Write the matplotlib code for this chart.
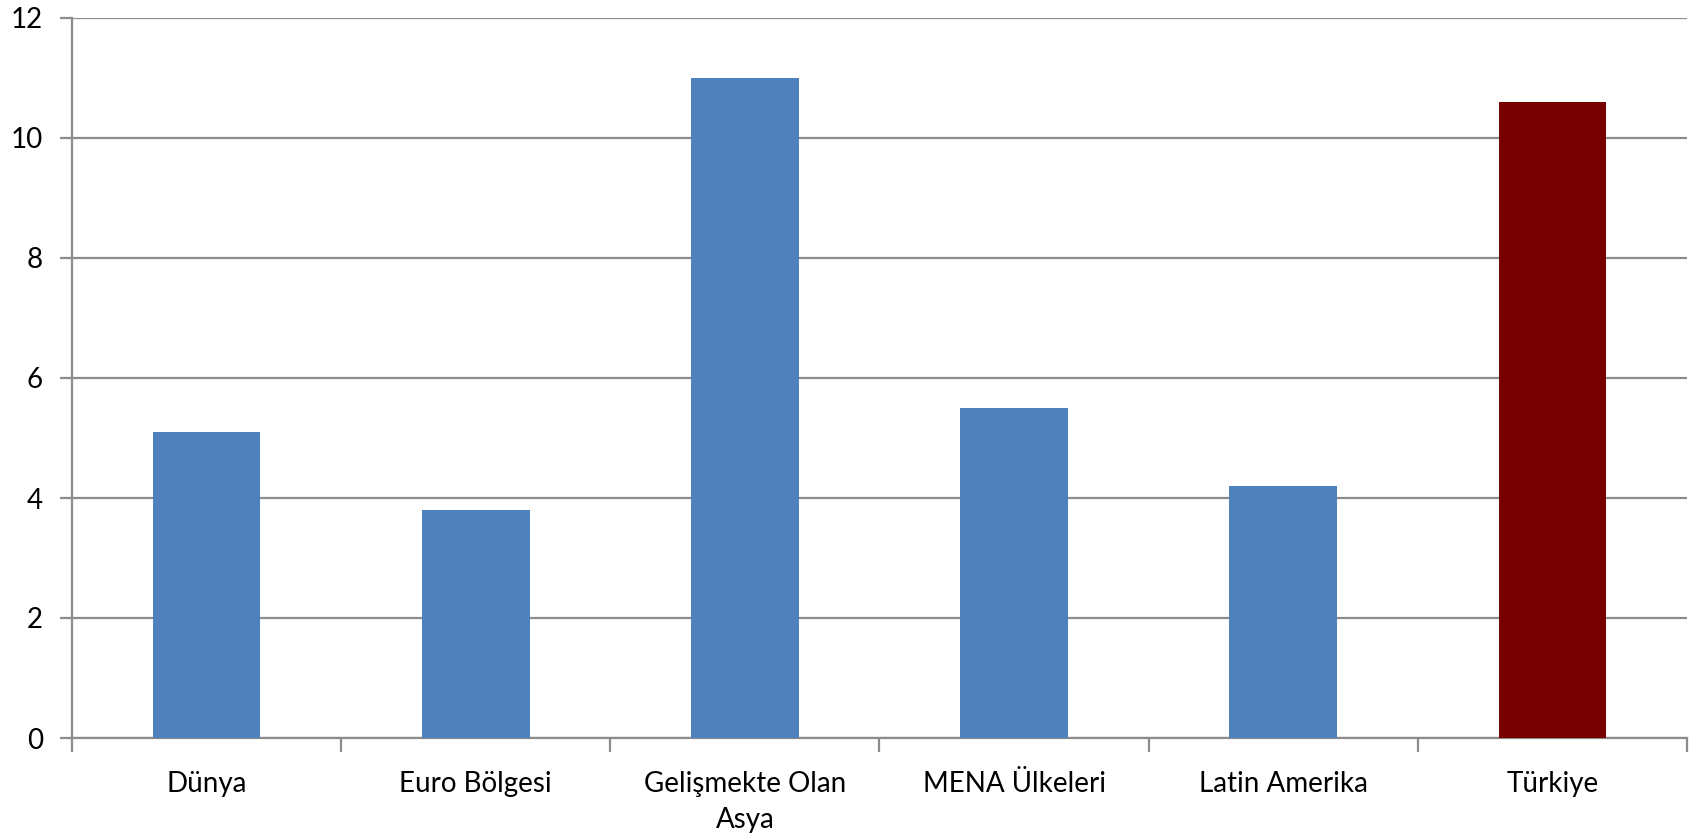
import matplotlib.pyplot as plt
import numpy as np

regions = ['Dünya', 'Euro Bölgesi', 'Gelişmekte Olan\nAsya', 'MENA Ülkeleri',
           'Latin Amerika', 'Türkiye']
values = [5.1, 3.8, 11.0, 5.5, 4.2, 10.6]
colors = ['#4F81BD'] * 5 + ['#770000']

plt.rcParams['font.family'] = ['Lato', 'DejaVu Sans']

fig = plt.figure(figsize=(16.94, 8.38), dpi=100)
ax = fig.add_axes([72 / 1694, 1 - 738 / 838, (1687 - 72) / 1694, 720 / 838])

x = np.arange(len(regions))
ax.bar(x, values, width=0.4, color=colors, zorder=3)

ax.set_xlim(-0.5, len(regions) - 0.5)
ax.set_ylim(0, 12)
ax.set_yticks(np.arange(0, 13, 2))
ax.yaxis.grid(True, color='#8c8c8c', linewidth=1.6, zorder=0)

# category boundaries get the tick marks, names sit in between
ax.set_xticks(np.arange(-0.5, len(regions), 1.0))
ax.set_xticklabels([])
ax.set_xticks(x, minor=True)
ax.set_xticklabels(regions, minor=True, fontsize=20, linespacing=1.45)
ax.tick_params(axis='x', which='minor', length=0, pad=24)
ax.tick_params(axis='x', which='major', length=10, width=1.6, color='#8c8c8c')
ax.tick_params(axis='y', length=9, width=1.6, color='#8c8c8c', labelsize=20, pad=12)

for side in ['top', 'right']:
    ax.spines[side].set_visible(False)
for side in ['left', 'bottom']:
    ax.spines[side].set_color('#8c8c8c')
    ax.spines[side].set_linewidth(1.6)

fig.savefig('out.png', dpi=100)
